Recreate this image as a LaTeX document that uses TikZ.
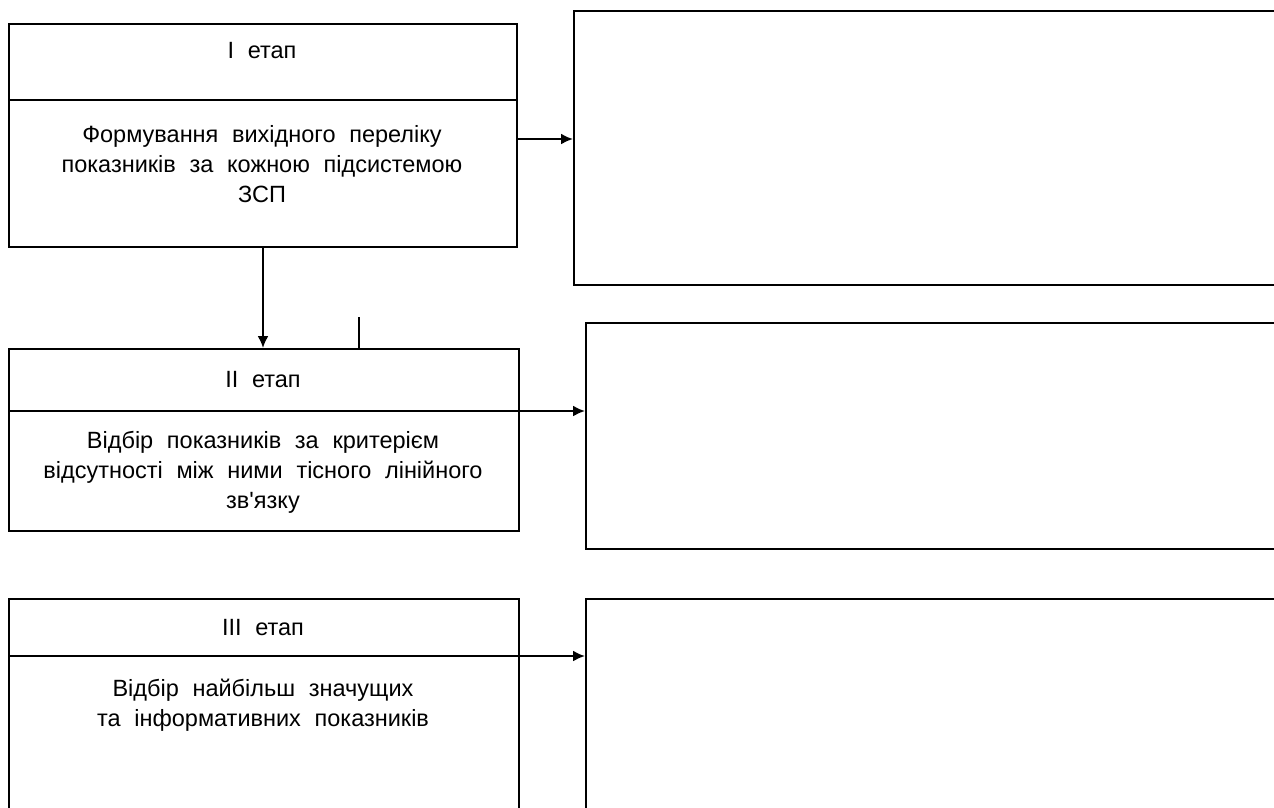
\documentclass[tikz,border=0pt]{standalone}
\usepackage{fontspec}
\setmainfont{Liberation Sans}
\newfontfamily\lblfont[WordSpace=2.1]{Liberation Sans}
\usetikzlibrary{arrows.meta}
\begin{document}
\begin{tikzpicture}[x=1pt,y=-1pt,
  box/.style={draw, line width=2.1pt, inner sep=0pt, anchor=north west},
  lbl/.style={font=\lblfont\fontsize{23.5}{30}\selectfont, align=center, inner sep=0pt},
  arr/.style={-{Latex[length=12pt,width=11pt]}, line width=2.1pt},
  ln/.style={line width=2.1pt}]
\useasboundingbox (0,0) rectangle (1274,807);
\clip (0,0) rectangle (1274,807);
% left boxes
\node[box, minimum width=508pt, minimum height=223pt] (s1) at (8,23) {};
\node[box, minimum width=510pt, minimum height=182pt] (s2) at (8,348) {};
\node[box, minimum width=510pt, minimum height=260pt] (s3) at (8,598) {};
% right boxes
\node[box, minimum width=720pt, minimum height=274pt] (r1) at (573,10) {};
\node[box, minimum width=720pt, minimum height=226pt] (r2) at (585,322) {};
\node[box, minimum width=720pt, minimum height=260pt] (r3) at (585,598) {};
% dividers
\draw[ln] (s1.west |- 0,100) -- (s1.east |- 0,100);
\draw[ln] (s2.west |- 0,411) -- (s2.east |- 0,411);
\draw[ln] (s3.west |- 0,656) -- (s3.east |- 0,656);
% texts
\node[lbl] (t1) at (262,51) {I етап};
\node[lbl] (b1) at (262,164) {Формування вихідного переліку\\показників за кожною підсистемою\\ЗСП};
\node[lbl] (t2) at (263,380) {II етап};
\node[lbl] (b2) at (263,472) {Відбір показників за критерієм\\відсутності між ними тісного лінійного\\зв'язку};
\node[lbl] (t3) at (263,628) {III етап};
\node[lbl] (b3) at (263,705) {Відбір найбільш значущих\\та інформативних показників};
% connectors
\draw[arr] (s1.east |- 0,139) -- (r1.west |- 0,139);
\draw[arr] (s2.east |- 0,411) -- (r2.west |- 0,411);
\draw[arr] (s3.east |- 0,656) -- (r3.west |- 0,656);
\draw[arr] (s1.south -| 263,0) -- (s2.north -| 263,0);
\coordinate (stub) at (359,317);
\draw[ln] (stub) -- (s2.north -| stub);
\end{tikzpicture}
\end{document}
